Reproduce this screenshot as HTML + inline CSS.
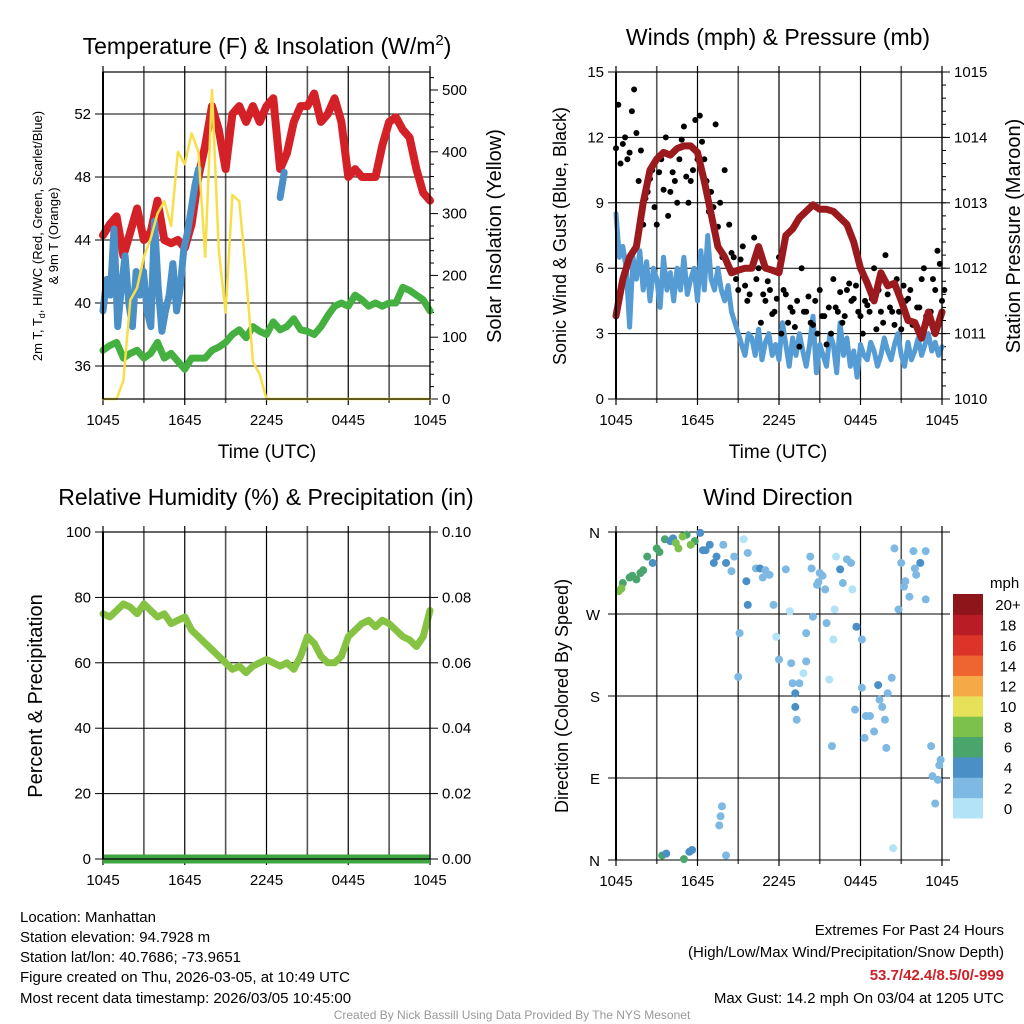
<!DOCTYPE html>
<html><head><meta charset="utf-8">
<style>
html,body{margin:0;padding:0;background:#fff;}
svg{display:block;font-family:"Liberation Sans",Arial,sans-serif;}
</style></head>
<body>
<svg id="c" width="1024" height="1024" viewBox="0 0 1024 1024" xmlns="http://www.w3.org/2000/svg">
<rect width="1024" height="1024" fill="#fff"/>
<g id="g"></g>
<text x="267" y="54" font-size="23" text-anchor="middle">Temperature (F) &amp; Insolation (W/m<tspan dy="-9" font-size="15">2</tspan><tspan dy="9">)</tspan></text>
<text x="778" y="45" font-size="23" text-anchor="middle">Winds (mph) &amp; Pressure (mb)</text>
<text x="266" y="505" font-size="23" text-anchor="middle">Relative Humidity (%) &amp; Precipitation (in)</text>
<text x="778" y="505" font-size="23" text-anchor="middle">Wind Direction</text>
<text x="267" y="458" font-size="19" text-anchor="middle">Time (UTC)</text>
<text x="778" y="458" font-size="19" text-anchor="middle">Time (UTC)</text>
<text transform="translate(42,236) rotate(-90)" font-size="13" text-anchor="middle">2m T, T<tspan font-size="9" dy="3">d</tspan><tspan dy="-3">, HI/WC (Red, Green, Scarlet/Blue)</tspan></text>
<text transform="translate(58,236) rotate(-90)" font-size="13" text-anchor="middle">&amp; 9m T (Orange)</text>
<text transform="translate(501,236) rotate(-90)" font-size="20" text-anchor="middle">Solar Insolation (Yellow)</text>
<text transform="translate(566,236) rotate(-90)" font-size="18" text-anchor="middle">Sonic Wind &amp; Gust (Blue, Black)</text>
<text transform="translate(1020,236) rotate(-90)" font-size="20" text-anchor="middle">Station Pressure (Maroon)</text>
<text transform="translate(42,696) rotate(-90)" font-size="20" text-anchor="middle">Percent &amp; Precipitation</text>
<text transform="translate(568,696) rotate(-90)" font-size="18" text-anchor="middle">Direction (Colored By Speed)</text>
<text x="990" y="588" font-size="15">mph</text>
<g font-size="15">
<text x="20" y="922">Location: Manhattan</text>
<text x="20" y="942">Station elevation: 94.7928 m</text>
<text x="20" y="962">Station lat/lon: 40.7686; -73.9651</text>
<text x="20" y="982">Figure created on Thu, 2026-03-05, at 10:49 UTC</text>
<text x="20" y="1003">Most recent data timestamp: 2026/03/05 10:45:00</text>
</g>
<g font-size="15" text-anchor="end">
<text x="1004" y="935">Extremes For Past 24 Hours</text>
<text x="1004" y="957">(High/Low/Max Wind/Precipitation/Snow Depth)</text>
<text x="1004" y="980" fill="#cc2128" font-weight="bold">53.7/42.4/8.5/0/-999</text>
<text x="1004" y="1003">Max Gust: 14.2 mph On 03/04 at 1205 UTC</text>
</g>
<text x="512" y="1019" font-size="12" fill="#999" text-anchor="middle">Created By Nick Bassill Using Data Provided By The NYS Mesonet</text>
</svg>
<script>
// ---- data (hours since 1045 UTC) ----
// temperature every 0.5 h
const tempRed=[44.3,45.0,45.5,43.0,44.5,46.0,44.0,44.5,46.5,44.0,43.8,44.0,43.5,45.0,48.0,50.0,52.5,51.0,48.5,52.0,52.5,51.5,52.5,51.5,52.5,53.0,48.5,49.5,51.5,52.5,52.5,53.3,51.5,52.0,53.0,51.5,48.0,48.5,48.0,48.0,48.0,50.0,51.5,51.8,51.0,50.5,48.5,47.0,46.5];
const hiwcBlue=[39.5,41.5,40.5,44.7,38.5,41.0,43.0,40.0,38.5,42.0,40.5,42.0,39.5,38.5,45.2,41.0,38.2,39.5,40.5,42.5,39.5,41.0,43.5,44.5,46.0,47.5,48.5];
const hiwcBlue2=[46.7,47.5,48.3];
const dewGreen=[37.0,37.3,37.5,36.5,36.8,37.0,36.5,36.8,37.5,36.5,36.8,36.3,35.8,36.5,36.5,36.5,37.0,37.2,37.5,38.0,38.3,37.8,38.5,38.2,38.0,38.8,38.3,38.5,39.0,38.3,38.2,38.0,38.5,39.2,39.8,40.0,39.8,40.5,40.2,39.8,40.0,39.8,40.0,40.0,41.0,40.8,40.5,40.2,39.5];
const solarYellow=[0,0,0,30,160,180,230,260,300,320,280,400,380,430,400,230,500,240,140,330,320,200,60,40,0,0,0,0,0,0,0,0,0,0,0,0,0,0,0,0,0,0,0,0,0,0,0,0,0];
// sonic wind every 0.25 h
const sonicBlue=[8.5,6.5,7.0,6.0,3.3,6.5,5.5,6.8,5.0,6.3,4.5,6.0,5.5,4.2,6.5,5.0,5.8,4.5,6.0,5.0,6.5,4.8,5.5,6.0,4.5,6.8,5.0,7.5,5.5,5.0,6.0,5.0,4.5,5.2,4.0,3.5,3.0,2.5,2.0,3.0,2.8,2.0,3.2,1.8,2.6,3.0,2.0,2.5,1.8,3.5,2.5,1.5,2.8,2.0,3.0,2.2,1.5,2.5,3.8,1.2,2.5,2.0,1.5,3.0,2.5,1.2,3.5,2.0,2.8,1.5,2.2,1.0,2.5,2.0,1.8,2.6,2.2,1.5,2.0,2.8,2.2,1.8,2.5,3.0,2.0,1.5,2.6,1.8,2.2,2.8,2.0,2.5,3.0,2.2,2.6,2.0,2.4];
const pressureMaroon=[1011.27,1011.83,1012.17,1012.33,1013.0,1013.5,1013.67,1013.77,1013.73,1013.83,1013.87,1013.87,1013.77,1013.33,1012.83,1012.33,1012.17,1011.93,1011.97,1012.0,1012.0,1012.33,1012.0,1011.97,1011.93,1012.5,1012.6,1012.77,1012.87,1012.97,1012.9,1012.9,1012.87,1012.77,1012.67,1012.4,1012.0,1011.77,1011.5,1011.93,1011.73,1011.77,1011.5,1011.2,1011.17,1010.93,1011.33,1011.0,1011.33];
// gusts every 20 min (two readings)
const gustBlack=[11.5,10.8,12,11.3,14.2,10,8,9.5,10.5,8,11,12,9.5,10,11,12.5,9,10.5,11,11.8,10,9.5,12.6,9,10.5,8,6.5,5,7,4.5,6,5.5,3.5,4.5,5,4,6.5,5,3.5,4,4.5,6,4,3.5,4.5,5,3.8,4.2,5.5,4,3.5,5,4.5,5.2,3.8,4.5,4,6,5,3.5,4.8,4,5.5,3.2,4.5,5,3.5,4.2,6,3.5,5.5,6.8,4.5];
const gustBlack2=[13.5,11.7,11.0,13.2,12.2,11.4,9.2,10.1,8.8,10.4,9.6,8.4,10.4,9.0,11.9,10.2,10.0,12.8,13.0,11.0,8.6,8.8,7.9,6.5,6.2,6.7,5.5,6.4,5.2,4.8,7.4,6.0,4.8,5.4,3.9,4.6,3.0,4.8,4.2,3.3,2.4,4.0,4.7,3.4,3.0,3.8,2.5,3.0,4.2,4.9,3.8,5.3,4.6,4.0,3.0,4.3,4.6,3.2,4.0,6.6,4.2,3.4,4.0,5.2,4.6,3.4,4.2,5.5,3.8,4.0,5.0,6.2,5.0];
const rhGreen=[75,74,76,78,77,75,78,76,74,75,72,73,74,70,68,66,64,62,60,58,59,57,59,60,61,60,59,60,58,62,68,66,62,60,60,62,68,70,72,73,71,73,72,70,68,67,65,68,76];
const precipIn=[0,0,0,0,0,0,0,0,0,0,0,0,0,0,0,0,0,0,0,0,0,0,0,0,0,0,0,0,0,0,0,0,0,0,0,0,0,0,0,0,0,0,0,0,0,0,0,0,0];
// wind direction: hour, degrees, speed mph
const dirHours=[0.2,0.5,1,1.5,1.8,2.3,2.7,3,3.6,4.2,4.6,5.2,5.8,6.2,6.4,6.9,7.2,7.9,8.1,8.7,8.5,9.4,9.6,9.7,9.1,9,9.7,10.3,10.6,11.3,11.6,11.8,12,12.5,12.8,12.9,13,13.2,13.2,13.3,13.5,13.8,14,14,14.3,14.4,14.5,14.8,15,15.4,15.5,15.7,15.9,16,16.1,16.2,16.5,16.7,17.3,17.4,17.6,17.7,18.1,18.1,18.3,18.7,19,19.3,19.4,19.8,19.9,20,20.3,20.4,20.5,20.8,21,21.3,21.6,21.9,22.1,22.4,22.8,22.8,23.2,23.3,23.5,23.7,23.8,23.9,3.4,3.7,5,5.4,5.6,7.6,7.8,7.7,8.1,0.4,1.2,2.0,3.2,4.0,4.4,4.9,5.5,6.6,7.4,10.8,11.0,14.9,15.2,17.0,18.4,19.6,21.2,22.0];
const dirDegrees=[295,304,310,308,315,333,326,342,352,353,342,357,350,359,340,346,326,346,326,333,317,352,306,280,249,201,337,320,320,313,280,245,220,319,273,216,194,183,168,154,194,205,218,249,333,320,267,302,315,297,260,198,125,242,275,333,319,304,326,297,165,256,242,189,134,158,141,192,176,154,123,183,200,13,342,275,326,306,289,339,313,326,339,286,125,92,62,88,104,110,5,7,1,9,11,38,59,48,5,298,312,318,338,350,348,355,346,340,333,310,318,305,312,330,158,168,300,320];
const dirSpeeds=[8,7,6,7,6,6,4,6,6,4,8,6,6,4,4,4,4,2,4,2,2,0,4,4,2,2,2,2,4,2,2,0,2,2,0,2,2,4,4,2,2,0,2,2,2,2,2,2,2,2,2,0,2,0,0,0,4,2,2,0,2,4,2,2,2,2,2,4,2,2,2,2,2,0,2,2,2,2,2,2,2,4,2,2,2,2,2,2,2,2,6,4,6,4,4,2,2,2,2,8,6,6,6,4,8,8,8,4,4,2,2,2,2,2,2,2,2,2];
const speedBins=["0","2","4","6","8","10","12","14","16","18","20+"];
const speedColors=["#b3e3f7","#7db9e3","#4a8fc6","#49a56c","#7bc14b","#e7e059","#f5a947","#ee6530","#dc3428","#ba1c25","#8e1519"];
const timeLabels=["1045","1645","2245","0445","1045"];

const NS="http://www.w3.org/2000/svg";
const G=document.getElementById('g');
function mk(tag,attrs,parent){const e=document.createElementNS(NS,tag);for(const k in attrs)e.setAttribute(k,attrs[k]);(parent||G).appendChild(e);return e;}
function scale(d0,d1,r0,r1){return v=>r0+(v-d0)/(d1-d0)*(r1-r0);}

function panel(name,x0,x1,y0,y1){
  const g=mk('g',{});
  
  
  const xs=scale(0,24,x0,x1);
  for(let h=0;h<=24;h+=3){
    const l=mk('line',{x1:xs(h),x2:xs(h),y1:y0-6,y2:y1+(h%6===0?6:4),stroke:h%6===0?'#000':'#555','stroke-width':h%6===0?1.2:1.6},g);
    
    
  }
  timeLabels.forEach((t,i)=>{
    const tx=mk('text',{x:xs(i*6),y:y1+26,'font-size':15,'text-anchor':'middle'},g);tx.textContent=t;
    
    
  });
  return {g,xs};
}
function yaxis(g,x0,x1,ys,ticks,fmt,side,grid){
  ticks.forEach(v=>{
    const y=ys(v);
    if(grid) mk('line',{x1:x0,x2:x1,y1:y,y2:y,stroke:'#000','stroke-width':1},g);
    const tx=side==='l'?x0:x1;
    mk('line',{x1:tx,x2:side==='l'?tx-8:tx+8,y1:y,y2:y,stroke:'#000','stroke-width':1},g);
    const t=mk('text',{x:side==='l'?tx-12:tx+12,y:y+5,'font-size':15,'text-anchor':side==='l'?'end':'start'},g);
    t.textContent=fmt(v);
    
    
  });
}
function frame(g,x0,x1,y0,y1){
  mk('rect',{x:x0,y:y0,width:x1-x0,height:y1-y0,fill:'none',stroke:'#000','stroke-width':1.2},g);
  mk('line',{x1:x0,x2:x0,y1:y0,y2:y1,stroke:'#000','stroke-width':2},g);
}
function line(g,name,vals,t0,step,xs,ys,color,w,cap){
  const pts=vals.map((v,i)=>xs(t0+i*step).toFixed(1)+','+ys(v).toFixed(1)).join(' ');
  const p=mk('polyline',{points:pts,fill:'none',stroke:color,'stroke-width':w,'stroke-linejoin':'round','stroke-linecap':cap||'round'},g);
  
  
  return p;
}

// Panel 1
{
  const x0=103,x1=430,y0=72,y1=399;
  const {g,xs}=panel('temperature-panel',x0,x1,y0,y1);
  const ys=scale(36,52,366,114);
  const yr=scale(0,500,399,90);
  yaxis(g,x0,x1,ys,[36,40,44,48,52],v=>v,'l',true);
  yaxis(g,x0,x1,yr,[0,100,200,300,400,500],v=>v,'r',false);
  for(let v=20;v<=520;v+=20){if(v%100){const y=yr(v);mk('line',{x1:x1,x2:x1+4,y1:y,y2:y,stroke:'#000'},g);}}
  line(g,'dewpoint-line',dewGreen,0,0.5,xs,ys,'#43b03f',7);
  line(g,'temperature-line',tempRed,0,0.5,xs,ys,'#d42027',8);
  line(g,'heat-index-line',hiwcBlue,0,0.27,xs,ys,'#4a8fc6',7);
  line(g,'heat-index-line-2',hiwcBlue2,13,0.15,xs,ys,'#4a8fc6',7);
  line(g,'insolation-line',solarYellow,0,0.5,xs,yr,'#f7df4a',2.5);
  frame(g,x0,x1,y0,y1);
}
// Panel 2
{
  const x0=616,x1=942,y0=72,y1=399;
  const {g,xs}=panel('wind-panel',x0,x1,y0,y1);
  const ys=scale(0,15,399,72);
  const yr=scale(1010,1015,399,72);
  yaxis(g,x0,x1,ys,[0,3,6,9,12,15],v=>v,'l',true);
  yaxis(g,x0,x1,yr,[1010,1011,1012,1013,1014,1015],v=>v,'r',false);
  for(let v=1010.2;v<1015;v+=0.2){const y=yr(v);mk('line',{x1:x1,x2:x1+4,y1:y,y2:y,stroke:'#000'},g);}
  line(g,'sonic-wind-line',sonicBlue,0,0.25,xs,ys,'#559bd4',5);
  gustBlack.forEach((v,i)=>{
    const c=mk('circle',{cx:xs(i/3),cy:ys(v),r:3,fill:'#000'},g);
    
    
  });
  gustBlack2.forEach((v,i)=>{
    const c=mk('circle',{cx:xs(i/3+0.17),cy:ys(v),r:3,fill:'#000'},g);
    
    
  });
  line(g,'pressure-line',pressureMaroon,0,0.5,xs,yr,'#9b1a1e',7);
  frame(g,x0,x1,y0,y1);
}
// Panel 3
{
  const x0=103,x1=430,y0=532,y1=859;
  const {g,xs}=panel('humidity-panel',x0,x1,y0,y1);
  const ys=scale(0,100,859,532);
  const yr=scale(0,0.1,859,532);
  yaxis(g,x0,x1,ys,[0,20,40,60,80,100],v=>v,'l',true);
  yaxis(g,x0,x1,yr,[0,0.02,0.04,0.06,0.08,0.1],v=>v.toFixed(2),'r',false);
  line(g,'precip-line',precipIn,0,0.5,xs,yr,'#3fa540',9,'butt');
  line(g,'rh-line',rhGreen,0,0.5,xs,ys,'#86c343',7);
  frame(g,x0,x1,y0,y1);
}
// Panel 4
{
  const x0=616,x1=942,y0=532,y1=860;
  const {g,xs}=panel('direction-panel',x0,x1,y0,y1);
  const ys=scale(0,360,860,532);
  const names=['N','E','S','W','N'];
  [0,90,180,270,360].forEach((v,i)=>{
    const y=ys(v);
    mk('line',{x1:x0-8,x2:x1+8,y1:y,y2:y,stroke:'#000'},g);
    const t=mk('text',{x:x0-16,y:y+6,'font-size':15,'text-anchor':'end'},g);t.textContent=names[i];
    
    
  });
  dirHours.forEach((h,i)=>{
    const bin=Math.min(10,Math.floor(dirSpeeds[i]/2));
    const c=mk('circle',{cx:xs(h),cy:ys(dirDegrees[i]),r:4,fill:speedColors[bin]},g);
    
    
  });
  mk('line',{x1:x0,x2:x0,y1:y0,y2:y1,stroke:'#000','stroke-width':2},g);
  const lg=mk('g',{});
  
  
  const bh=(818-594)/11;
  speedColors.forEach((col,i)=>{
    const y=818-(i+1)*bh;
    const r=mk('rect',{x:953,y:y,width:30,height:bh+0.5,fill:col},lg);
    
    
    const t=mk('text',{x:1008,y:y+bh/2+6,'font-size':15,'text-anchor':'middle'},lg);t.textContent=speedBins[i];
    
    
  });
}
</script>
</body></html>
